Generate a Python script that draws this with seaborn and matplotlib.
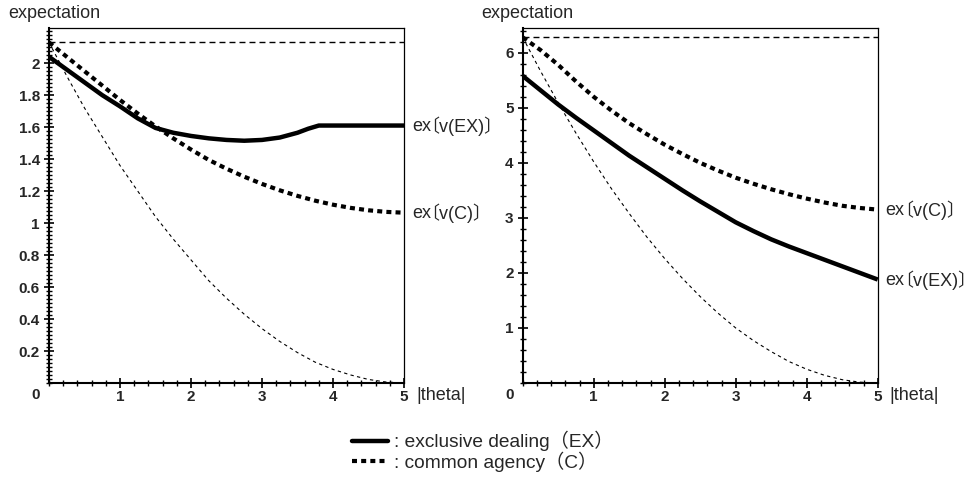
import matplotlib
matplotlib.use('Agg')
import matplotlib.pyplot as plt
from matplotlib.lines import Line2D
from matplotlib.ticker import MultipleLocator, FixedLocator, FuncFormatter
import seaborn as sns

# values
theta = [0.0, 0.25, 0.5, 0.75, 1.0, 1.25, 1.5, 1.75, 2.0, 2.25, 2.5,
         2.75, 3.0, 3.25, 3.5, 3.75, 4.0, 4.25, 4.5, 4.75, 5.0]

# left panel
left_ex_theta = [0.0, 0.25, 0.5, 0.75, 1.0, 1.25, 1.5, 1.75, 2.0, 2.25, 2.5,
                 2.75, 3.0, 3.25, 3.5, 3.65, 3.8, 4.0, 4.5, 5.0]
left_ex = [2.04, 1.96, 1.88, 1.80, 1.73, 1.655, 1.595, 1.565, 1.545, 1.53, 1.52,
           1.515, 1.52, 1.535, 1.565, 1.59, 1.61, 1.61, 1.61, 1.61]
left_c = [2.13, 2.04, 1.95, 1.86, 1.77, 1.685, 1.605, 1.53, 1.46, 1.395, 1.34,
          1.29, 1.245, 1.205, 1.17, 1.14, 1.115, 1.095, 1.08, 1.07, 1.065]
left_thin = [2.13, 1.92, 1.72, 1.54, 1.36, 1.20, 1.04, 0.90, 0.77, 0.64, 0.53,
             0.43, 0.34, 0.26, 0.19, 0.13, 0.085, 0.05, 0.022, 0.006, 0.0]
left_top = 2.13
left_yticks = [0.2, 0.4, 0.6, 0.8, 1.0, 1.2, 1.4, 1.6, 1.8, 2.0]

# right panel
right_ex = [5.58, 5.32, 5.06, 4.82, 4.59, 4.36, 4.13, 3.92, 3.71, 3.50, 3.30,
            3.11, 2.92, 2.76, 2.61, 2.48, 2.36, 2.24, 2.12, 2.00, 1.88]
right_c = [6.28, 6.05, 5.78, 5.48, 5.20, 4.95, 4.72, 4.52, 4.33, 4.16, 4.00,
           3.86, 3.73, 3.62, 3.52, 3.43, 3.35, 3.28, 3.22, 3.18, 3.15]
right_thin = [6.28, 5.67, 5.09, 4.54, 4.02, 3.53, 3.08, 2.65, 2.26, 1.90, 1.57,
              1.27, 1.00, 0.77, 0.57, 0.39, 0.25, 0.14, 0.06, 0.015, 0.0]
right_top = 6.28
right_yticks = [1, 2, 3, 4, 5, 6]

x_ticks = [1, 2, 3, 4, 5]

sns.set_style("ticks")
plt.rcParams['font.family'] = ['Liberation Sans', 'Noto Sans CJK JP', 'DejaVu Sans']

fig = plt.figure(figsize=(9.64, 4.93), dpi=100)
W, H = 964, 493

THICK_DASH = (0, (1.2, 1.0))
FS = 13


def panel(left_px, ex_x, ex_y, c_y, thin_y, top, ymax, yticks, yminor):
    ax = fig.add_axes([left_px / W, 110 / H, 355 / W, 355 / H])
    sns.lineplot(x=[0, 5], y=[top, top], ax=ax, color='black', lw=1.0,
                 linestyle=(0, (4.3, 2.9)))
    sns.lineplot(x=theta, y=thin_y, ax=ax, color='black', lw=0.8,
                 linestyle=(0, (3, 3)))
    sns.lineplot(x=theta, y=c_y, ax=ax, color='black', lw=3.0,
                 linestyle=THICK_DASH)
    sns.lineplot(x=ex_x, y=ex_y, ax=ax, color='black', lw=3.2,
                 solid_capstyle='butt')
    for ln in ax.lines:
        ln.set_dash_capstyle('butt')
    ax.set_xlim(0, 5)
    ax.set_ylim(0, ymax)
    ax.set_xlabel('')
    ax.set_ylabel('')

    ax.xaxis.set_major_locator(FixedLocator(x_ticks))
    ax.xaxis.set_minor_locator(MultipleLocator(0.2))
    ax.yaxis.set_major_locator(FixedLocator(yticks))
    ax.yaxis.set_minor_locator(MultipleLocator(yminor))
    fmt = FuncFormatter(lambda v, p: '%g' % v)
    ax.xaxis.set_major_formatter(fmt)
    ax.yaxis.set_major_formatter(fmt)
    ax.tick_params(which='major', direction='inout', length=7, width=1.2,
                   labelsize=11, color='black')
    ax.tick_params(which='minor', direction='inout', length=4, width=1.0,
                   color='black')
    ax.tick_params(axis='y', which='major', pad=3)
    ax.tick_params(axis='x', which='major', pad=1.5)
    for lab in ax.get_xticklabels() + ax.get_yticklabels():
        lab.set_fontweight('bold')

    for side in ['left', 'bottom']:
        ax.spines[side].set_linewidth(1.5)
    for side in ['top', 'right']:
        ax.spines[side].set_linewidth(0.9)
        ax.spines[side].set_visible(True)
    for s in ax.spines.values():
        s.set_color('black')

    ax.annotate('expectation', xy=(0, 1), xycoords='axes fraction',
                xytext=(-41, 14), textcoords='offset pixels',
                ha='left', va='center', fontsize=FS)
    ax.annotate('|theta|', xy=(5, 0), xycoords='data',
                xytext=(12, -12), textcoords='offset pixels',
                ha='left', va='center', fontsize=FS, annotation_clip=False)
    ax.annotate('0', xy=(0, 0), xycoords='data',
                xytext=(-13, -12), textcoords='offset pixels',
                ha='center', va='center', fontsize=11, fontweight='bold',
                annotation_clip=False)
    return ax


ax1 = panel(49, left_ex_theta, left_ex, left_c, left_thin, left_top, 2.22,
            left_yticks, 0.025)
ax2 = panel(522.7, theta, right_ex, right_c, right_thin, right_top, 6.45,
            right_yticks, 0.2)

# curve end labels: "ex" and the bracket part set close together,
# the CJK bracket glyph carries its own blank half on the left
for ax, ys, labels in [
    (ax1, [left_ex[-1], left_c[-1]], ['v(EX)', 'v(C)']),
    (ax2, [right_c[-1], right_ex[-1]], ['v(C)', 'v(EX)']),
]:
    for yv, lab in zip(ys, labels):
        ax.annotate('ex', xy=(5, yv), xycoords='data', xytext=(8, -1),
                    textcoords='offset pixels', ha='left', va='center',
                    fontsize=FS, annotation_clip=False)
        ax.annotate('〔' + lab + '〕', xy=(5, yv), xycoords='data',
                    xytext=(17, -1), textcoords='offset pixels', ha='left',
                    va='center', fontsize=FS, annotation_clip=False)

handles = [Line2D([], [], color='black', lw=3.2),
           Line2D([], [], color='black', lw=3.0, linestyle=THICK_DASH,
                  dash_capstyle='butt')]
fig.legend(handles, [': exclusive dealing（EX）', ': common agency（C）'],
           loc='upper left', bbox_to_anchor=(352 / W, 1 - 431 / H),
           frameon=False, fontsize=13.8, handlelength=1.9, handletextpad=0.3,
           borderpad=0, borderaxespad=0, labelspacing=0.0)

fig.savefig('out.png', dpi=100)
